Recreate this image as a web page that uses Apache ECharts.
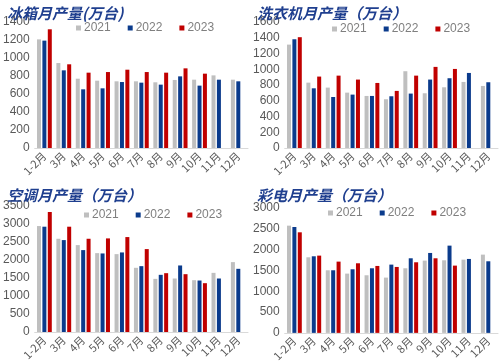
<!DOCTYPE html>
<html><head><meta charset="utf-8">
<script src="https://cdn.jsdelivr.net/npm/echarts@6/dist/echarts.min.js"></script>
<style>
html,body{margin:0;padding:0;background:#fff;}
.p{position:absolute;width:250px;height:182px;}
</style></head>
<body>
<div id="c0" class="p" style="left:0;top:0"></div>
<div id="c1" class="p" style="left:250px;top:0"></div>
<div id="c2" class="p" style="left:0;top:182px"></div>
<div id="c3" class="p" style="left:250px;top:182px"></div>
<script>
const categories = ['1-2月','3月','4月','5月','6月','7月','8月','9月','10月','11月','12月'];
const years = ['2021','2022','2023'];

const fridge2021 = [1207,944,770,748,741,741,730,756,759,807,759];
const fridge2022 = [1193,863,652,663,733,726,704,796,693,759,741];
const fridge2023 = [1319,930,837,844,870,844,837,885,826,null,null];

const washer2021 = [1313,830,767,703,661,619,975,695,771,839,788];
const washer2022 = [1381,758,648,678,661,657,691,869,886,953,835];
const washer2023 = [1407,907,919,869,826,725,919,1030,1004,null,null];

const ac2021 = [2943,2590,2414,2191,2163,1783,1476,1486,1439,1643,1941];
const ac2022 = [2925,2553,2275,2182,2210,1829,1588,1848,1430,1486,1755];
const ac2023 = [3333,2925,2590,2600,2637,2303,1634,1606,1356,null,null];

const tv2021 = [2576,1816,1504,1424,1384,1328,1552,1736,1744,1760,1880];
const tv2022 = [2544,1840,1504,1528,1552,1640,1792,1920,2096,1776,1720];
const tv2023 = [2416,1856,1712,1672,1608,1584,1696,1792,1616,null,null];

const titles = ['冰箱月产量(万台)','洗衣机月产量（万台）','空调月产量（万台）','彩电月产量（万台）'];
const yMax = [1400,1600,3500,3000];
const yInterval = [200,200,500,500];
const colors = ['#BFBFBF','#0B3B8C','#C00000'];

const panels = [
  {data:[fridge2021,fridge2022,fridge2023], grid:{left:33,right:2,top:22,bottom:34}, legend:{left:76,top:22}},
  {data:[washer2021,washer2022,washer2023], grid:{left:33,right:2,top:22,bottom:34}, legend:{left:82,top:23}},
  {data:[ac2021,ac2022,ac2023], grid:{left:33,right:2,top:24,bottom:32}, legend:{left:84,top:27}},
  {data:[tv2021,tv2022,tv2023], grid:{left:33,right:2,top:26,bottom:29}, legend:{left:78,top:25}}
];

panels.forEach((p,i)=>{
  const chart = echarts.init(document.getElementById('c'+i), null, {renderer:'canvas'});
  chart.setOption({
    animation:false,
    title:{text:titles[i], left:2, top:1, textStyle:{fontFamily:'Noto Sans CJK SC', fontSize:15, fontWeight:'bold', fontStyle:'italic', color:'#1F3F8F'}},
    legend:{data:years, left:p.legend.left, top:p.legend.top, width:200, padding:0, itemWidth:5, itemHeight:5, itemGap:17, icon:'rect',
      textStyle:{fontFamily:'Liberation Sans', fontSize:12, color:'#7F7F7F', padding:[0,0,0,-2]}},
    grid:p.grid,
    xAxis:{type:'category', data:categories,
      axisLine:{lineStyle:{color:'#D9D9D9'}}, axisTick:{show:false},
      axisLabel:{rotate:45, fontSize:11, color:'#595959', fontFamily:'Noto Sans CJK SC', interval:0, margin:6}},
    yAxis:{type:'value', min:0, max:yMax[i], interval:yInterval[i],
      splitLine:{show:false}, axisLine:{show:false}, axisTick:{show:false},
      axisLabel:{fontSize:12, color:'#595959', fontFamily:'Liberation Sans', margin:5, formatter:v=>String(v)}},
    series: years.map((y,k)=>({name:y, type:'bar', data:p.data[k], barWidth:4, barGap:'35%', itemStyle:{color:colors[k]}}))
  });
});
</script>
</body></html>
